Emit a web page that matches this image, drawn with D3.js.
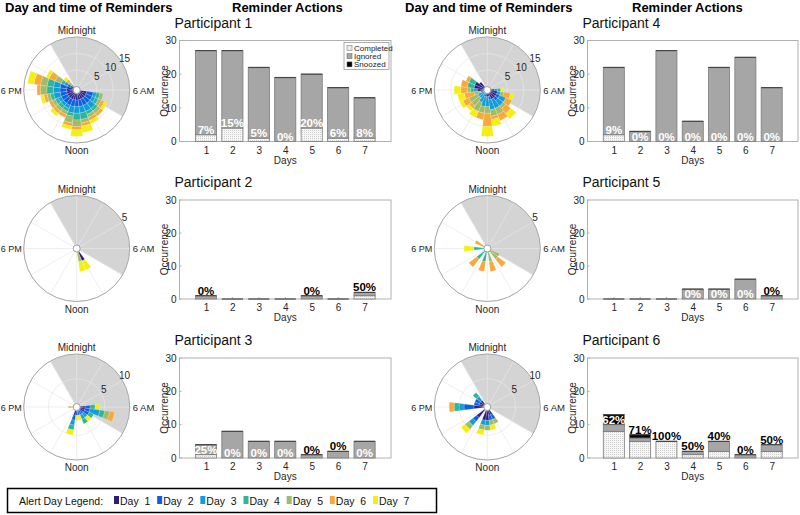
<!DOCTYPE html>
<html>
<head>
<meta charset="utf-8">
<script src="https://d3js.org/d3.v7.min.js"></script>
<style>
  body { margin: 0; background: #fff; }
  text { font-family: Arial, "Liberation Sans", Helvetica, sans-serif; }
</style>
</head>
<body>
<script>
// ---- data ----
var days = [1, 2, 3, 4, 5, 6, 7];
var dayColors = ["#2b1d80", "#0c5fe0", "#129cd8", "#2db69c", "#a0bb6a", "#f8a93c", "#f5ee12"];
var participants = ["Participant 1", "Participant 2", "Participant 3", "Participant 4", "Participant 5", "Participant 6"];
var actionNames = ["Completed", "Ignored", "Snoozed"];
var barTicks = [0, 10, 20, 30];

// reminders per day (total), completed and snoozed
var p1Total = [27, 27, 22, 19, 20, 16, 13], p1Done = [2, 4, 1, 0, 4, 1, 1], p1Snoozed = [0, 0, 0, 0, 0, 0, 0];
var p2Total = [1, 0, 0, 0, 1, 0, 2],        p2Done = [0, 0, 0, 0, 0, 0, 1], p2Snoozed = [0, 0, 0, 0, 0, 0, 0];
var p3Total = [4, 8, 5, 5, 1, 2, 5],        p3Done = [1, 0, 0, 0, 0, 0, 0], p3Snoozed = [0, 0, 0, 0, 0, 0, 0];
var p4Total = [22, 3, 27, 6, 22, 25, 16],   p4Done = [2, 0, 0, 0, 0, 0, 0], p4Snoozed = [0, 0, 0, 0, 0, 0, 0];
var p5Total = [0, 0, 0, 3, 3, 6, 1],        p5Done = [0, 0, 0, 0, 0, 0, 0], p5Snoozed = [0, 0, 0, 0, 0, 0, 0];
var p6Total = [13, 7, 5, 2, 5, 1, 4],       p6Done = [8, 5, 5, 1, 2, 0, 2], p6Snoozed = [3, 1, 0, 0, 0, 0, 0];

// rose data: [hour of day, reminders on day1 .. day7 in that hour]
var p1Rose = [
  [7, 2, 2, 1, 1, 1, 0, 0], [8, 2, 2, 1, 1, 1, 1, 1], [9, 2, 2, 2, 1, 1, 1, 0],
  [10, 2, 2, 2, 1, 1, 1, 1], [11, 2, 2, 2, 2, 1, 1, 2], [12, 2, 2, 2, 2, 2, 1, 2],
  [13, 2, 2, 2, 1, 2, 1, 1], [14, 2, 2, 1, 1, 1, 1, 0], [15, 2, 2, 1, 1, 1, 1, 1],
  [16, 2, 2, 1, 1, 1, 1, 0], [17, 2, 2, 2, 1, 1, 1, 1], [18, 2, 2, 2, 2, 2, 1, 0],
  [19, 2, 2, 2, 2, 2, 2, 2], [20, 1, 1, 1, 1, 2, 2, 1], [21, 0, 0, 0, 1, 1, 1, 1]
];
var p2Rose = [[10, 1, 0, 0, 0, 0, 0, 1], [11, 0, 0, 0, 0, 1, 0, 1]];
var p3Rose = [
  [6, 1, 1, 0, 1, 0, 0, 1], [7, 1, 1, 2, 1, 1, 1, 0], [8, 1, 1, 0, 1, 0, 0, 0],
  [9, 0, 1, 1, 0, 0, 0, 1], [10, 0, 1, 1, 1, 0, 0, 0], [11, 0, 1, 0, 0, 0, 0, 1],
  [12, 0, 1, 0, 0, 0, 0, 1], [13, 1, 1, 1, 1, 0, 0, 1], [18, 0, 0, 0, 0, 0, 1, 0]
];
var p4Rose = [
  [6, 1, 0, 1, 1, 0, 0, 1], [7, 2, 0, 1, 0, 1, 2, 1], [8, 2, 1, 2, 0, 0, 2, 0],
  [9, 2, 1, 2, 0, 1, 2, 2], [10, 2, 0, 3, 0, 2, 2, 0], [11, 1, 1, 3, 0, 2, 1, 2],
  [12, 1, 0, 3, 0, 2, 4, 3], [13, 1, 0, 3, 0, 2, 2, 0], [14, 0, 0, 3, 0, 3, 0, 2],
  [15, 0, 0, 2, 0, 3, 1, 1], [16, 0, 0, 2, 0, 3, 2, 1], [17, 0, 0, 1, 0, 2, 3, 2],
  [18, 2, 0, 1, 1, 1, 2, 2], [19, 3, 0, 0, 2, 0, 2, 0], [20, 3, 0, 0, 2, 0, 1, 0],
  [21, 2, 0, 0, 0, 0, 0, 0]
];
var p5Rose = [
  [8, 0, 0, 0, 0, 1, 0, 0], [9, 0, 0, 0, 0, 1, 1, 0], [11, 0, 0, 0, 0, 1, 1, 0],
  [13, 0, 0, 0, 1, 0, 1, 0], [15, 0, 0, 0, 1, 0, 1, 0], [18, 0, 0, 0, 1, 0, 0, 1],
  [20, 0, 0, 0, 0, 0, 1, 0]
];
var p6Rose = [
  [10, 1, 1, 0, 0, 1, 0, 0], [11, 1, 1, 0, 0, 1, 0, 1], [12, 2, 0, 1, 0, 1, 0, 0],
  [13, 2, 0, 1, 0, 1, 0, 1], [15, 2, 1, 1, 0, 1, 0, 1], [18, 2, 2, 1, 1, 0, 1, 0],
  [19, 1, 1, 0, 0, 0, 0, 0], [20, 1, 1, 0, 0, 0, 0, 0], [21, 1, 0, 1, 1, 0, 0, 0]
];
var roseMax = [15, 5, 10, 15, 5, 10];
var roseTicks = [[5, 10, 15], [5], [5, 10], [5, 10, 15], [5], [5, 10]];

// ---- layout ----
var svg = d3.select("body").append("svg").attr("width", 800).attr("height", 515);

var defs = svg.append("defs");
var pat = defs.append("pattern").attr("id", "dots").attr("patternUnits", "userSpaceOnUse")
  .attr("width", 2).attr("height", 2);
pat.append("rect").attr("width", 2).attr("height", 2).attr("fill", "#f6f6f6");
pat.append("rect").attr("width", 1).attr("height", 1).attr("fill", "#cfcfcf");

var colX = [{cx: 76.7, x0: 179.5, x1: 391}, {cx: 487.3, x0: 587.5, x1: 798}];
var rowY = [{y0: 40.5, y1: 141.5}, {y0: 200, y1: 299}, {y0: 358, y1: 458}];

var allTotals = [p1Total, p2Total, p3Total, p4Total, p5Total, p6Total];
var allDone = [p1Done, p2Done, p3Done, p4Done, p5Done, p6Done];
var allSnoozed = [p1Snoozed, p2Snoozed, p3Snoozed, p4Snoozed, p5Snoozed, p6Snoozed];
var allRose = [p1Rose, p2Rose, p3Rose, p4Rose, p5Rose, p6Rose];

// column headers
[0, 1].forEach(function(c) {
  svg.append("text").attr("x", c ? 405 : 5).attr("y", 12)
    .attr("font-size", 13).attr("font-weight", "bold").text("Day and time of Reminders");
  svg.append("text").attr("x", c ? 632 : 232).attr("y", 12)
    .attr("font-size", 13).attr("font-weight", "bold").text("Reminder Actions");
});

var R = 53, hole = 3.5;
var toRad = Math.PI / 180;

participants.forEach(function(name, i) {
  var col = colX[Math.floor(i / 3)], row = rowY[i % 3];

  // ---------- rose ----------
  var cx = col.cx, cy = (row.y0 + row.y1) / 2 - 1;
  var g = svg.append("g").attr("transform", "translate(" + cx + "," + cy + ")");
  var r = d3.scaleLinear().domain([0, roseMax[i]]).range([hole, R]);
  var hourAngle = d3.scaleLinear().domain([0, 24]).range([0, 2 * Math.PI]);

  g.append("circle").attr("r", R).attr("fill", "#fff");
  g.append("path").attr("fill", "#d4d4d4")
    .attr("d", d3.arc()({innerRadius: 0, outerRadius: R, startAngle: hourAngle(-2), endAngle: hourAngle(8)}));
  d3.range(0, 24, 2).forEach(function(h) {
    var a = hourAngle(h);
    g.append("line").attr("x1", 0).attr("y1", 0)
      .attr("x2", R * Math.sin(a)).attr("y2", -R * Math.cos(a))
      .attr("stroke", "#e6e6e6").attr("stroke-width", 0.7);
  });
  roseTicks[i].forEach(function(t) {
    g.append("circle").attr("r", r(t)).attr("fill", "none").attr("stroke", "#e6e6e6").attr("stroke-width", 0.7);
  });

  var arc = d3.arc();
  allRose[i].forEach(function(bin) {
    var acc = 0;
    days.forEach(function(d, k) {
      var v = bin[k + 1];
      if (!v) return;
      g.append("path").attr("fill", dayColors[k])
        .attr("stroke", "#ffffff").attr("stroke-opacity", 0.35).attr("stroke-width", 0.5)
        .attr("d", arc({innerRadius: r(acc), outerRadius: r(acc + v),
          startAngle: hourAngle(bin[0] - 0.5), endAngle: hourAngle(bin[0] + 0.5)}));
      acc += v;
    });
  });

  g.append("circle").attr("r", R).attr("fill", "none").attr("stroke", "#a8a8a8").attr("stroke-width", 1);
  g.append("circle").attr("r", hole).attr("fill", "#fff").attr("stroke", "#888").attr("stroke-width", 0.8);

  var lab = {fill: "#262626", size: 10};
  g.append("text").attr("x", 0).attr("y", -R - 3).attr("text-anchor", "middle")
    .attr("font-size", lab.size).attr("fill", lab.fill).text("Midnight");
  g.append("text").attr("x", 0).attr("y", R + 11).attr("text-anchor", "middle")
    .attr("font-size", lab.size).attr("fill", lab.fill).text("Noon");
  g.append("text").attr("x", R + 3).attr("y", 3.5).attr("text-anchor", "start")
    .attr("font-size", 9.5).attr("fill", lab.fill).text("6 AM");
  g.append("text").attr("x", -R - 2).attr("y", 3.5).attr("text-anchor", "end")
    .attr("font-size", 9).attr("fill", lab.fill).text("6 PM");
  roseTicks[i].forEach(function(t) {
    var rr = r(t) + 4, a = 57 * toRad;
    g.append("text").attr("x", rr * Math.sin(a)).attr("y", -rr * Math.cos(a) + 3.5)
      .attr("text-anchor", "middle").attr("font-size", 10).attr("fill", lab.fill).text(t);
  });

  // ---------- bar chart ----------
  svg.append("text").attr("x", col.x0 - 5).attr("y", row.y0 - 13)
    .attr("font-size", 14).attr("fill", "#111").text(name);

  var x = d3.scaleLinear().domain([0, 8]).range([col.x0, col.x1]);
  var y = d3.scaleLinear().domain([0, 30]).range([row.y1, row.y0]);
  var bw = (x(1) - x(0)) * 0.8;
  var bg = svg.append("g");

  bg.append("rect").attr("x", col.x0).attr("y", row.y0)
    .attr("width", col.x1 - col.x0).attr("height", row.y1 - row.y0)
    .attr("fill", "#fff").attr("stroke", "#b0b0b0").attr("stroke-width", 1);

  var yAxis = d3.axisLeft(y).tickValues(barTicks).tickSize(0).tickPadding(3);
  var ya = bg.append("g").attr("transform", "translate(" + col.x0 + ",0)").call(yAxis);
  var xAxis = d3.axisBottom(x).tickValues(days).tickSize(0).tickPadding(5);
  var xa = bg.append("g").attr("transform", "translate(0," + row.y1 + ")").call(xAxis);
  [ya, xa].forEach(function(a) {
    a.select(".domain").remove();
    a.selectAll("text").attr("font-size", 10).attr("fill", "#262626")
      .attr("font-family", "Arial, 'Liberation Sans', sans-serif");
  });
  barTicks.forEach(function(t) {
    bg.append("line").attr("x1", col.x0).attr("x2", col.x0 + 2).attr("y1", y(t)).attr("y2", y(t))
      .attr("stroke", "#b0b0b0");
  });
  days.forEach(function(d) {
    bg.append("line").attr("x1", x(d)).attr("x2", x(d)).attr("y1", row.y1).attr("y2", row.y1 - 2)
      .attr("stroke", "#b0b0b0");
  });
  bg.append("text").attr("transform", "translate(" + (col.x0 - 15) + "," + ((row.y0 + row.y1) / 2) + ") rotate(-90)")
    .attr("text-anchor", "middle").attr("dy", 3.5).attr("font-size", 10).attr("fill", "#262626").text("Occurrence");
  bg.append("text").attr("x", (col.x0 + col.x1) / 2).attr("y", row.y1 + 22)
    .attr("text-anchor", "middle").attr("font-size", 10).attr("fill", "#262626").text("Days");

  var tot = allTotals[i], done = allDone[i], snz = allSnoozed[i];
  days.forEach(function(d, k) {
    var ign = tot[k] - done[k] - snz[k];
    var segs = [[0, done[k], "url(#dots)"], [done[k], done[k] + ign, "#a6a6a6"], [done[k] + ign, tot[k], "#000"]];
    segs.forEach(function(s) {
      if (s[1] <= s[0]) return;
      bg.append("rect").attr("x", x(d) - bw / 2).attr("width", bw)
        .attr("y", y(s[1])).attr("height", y(s[0]) - y(s[1]))
        .attr("fill", s[2]).attr("stroke", "#7a7a7a").attr("stroke-width", 0.8);
    });
    bg.append("line").attr("x1", x(d) - bw / 2).attr("x2", x(d) + bw / 2)
      .attr("y1", y(tot[k])).attr("y2", y(tot[k])).attr("stroke", "#444").attr("stroke-width", 1.2);

    if (!tot[k]) return;
    var pct = Math.round(done[k] / tot[k] * 100) + "%";
    var ly, lc;
    if (ign >= 3 && done[k] / tot[k] < 0.3) { ly = y(done[k]) - 1; lc = "#fff"; }
    else if (snz[k] >= 2) { ly = y(done[k] + ign) - 1; lc = "#fff"; }
    else { ly = y(tot[k]) - 1; lc = "#000"; }
    bg.append("text").attr("x", x(d)).attr("y", ly).attr("text-anchor", "middle")
      .attr("font-size", 11.5).attr("font-weight", "bold").attr("fill", lc).text(pct);
  });

  if (i === 0) {
    var lg = bg.append("g").attr("transform", "translate(" + (col.x1 - 47) + "," + (row.y0 + 2) + ")");
    lg.append("rect").attr("width", 45).attr("height", 27).attr("fill", "#fff").attr("stroke", "#999").attr("stroke-width", 0.8);
    var sw = ["url(#dots)", "#a6a6a6", "#000"];
    actionNames.forEach(function(a, k) {
      lg.append("rect").attr("x", 3).attr("y", 3 + k * 8.2).attr("width", 5).attr("height", 5)
        .attr("fill", sw[k]).attr("stroke", "#666").attr("stroke-width", 0.5);
      lg.append("text").attr("x", 10).attr("y", 8 + k * 8.2).attr("font-size", 8).attr("fill", "#222").text(a);
    });
  }
});

// ---------- day legend ----------
var dl = svg.append("g");
dl.append("rect").attr("x", 7.5).attr("y", 488.5).attr("width", 429).attr("height", 24)
  .attr("fill", "#fff").attr("stroke", "#000").attr("stroke-width", 1.5);
dl.append("text").attr("x", 19).attr("y", 505).attr("font-size", 10.5).attr("fill", "#111").text("Alert Day Legend:");
var legX = d3.scaleLinear().domain([1, 7]).range([114, 373]);
days.forEach(function(d, k) {
  dl.append("rect").attr("x", legX(d)).attr("y", 496).attr("width", 5).attr("height", 8).attr("fill", dayColors[k]);
  dl.append("text").attr("x", legX(d) + 6).attr("y", 505).attr("font-size", 10.5).attr("fill", "#111")
    .attr("xml:space", "preserve").text("Day  " + d);
});
</script>
</body>
</html>
